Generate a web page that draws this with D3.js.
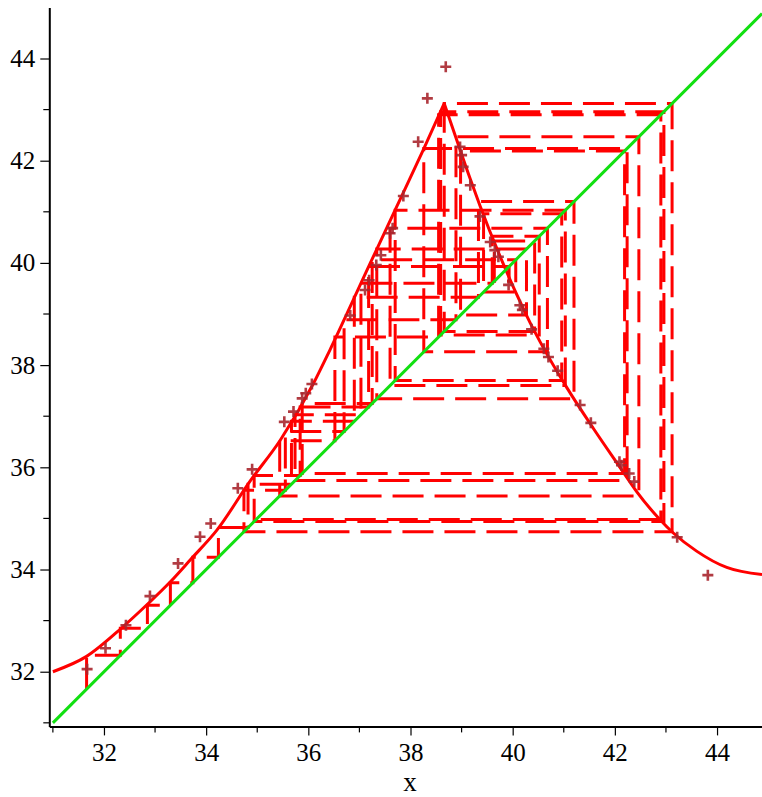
<!DOCTYPE html>
<html>
<head>
<meta charset="utf-8">
<script src="https://cdn.jsdelivr.net/npm/d3@7"></script>
<style>
  html, body { margin: 0; padding: 0; background: #fff; }
  svg { display: block; }
</style>
</head>
<body>
<svg id="chart" width="762" height="797"></svg>
<script>
// Map curve x_{n+1} = f(x_n): rising branch up to the peak, then falling branch
const riseX = [31.00, 31.66, 32.35, 32.84, 33.29, 33.70, 34.21, 34.86, 35.45, 36.10, 36.42, 37.21, 37.73, 38.25, 38.66];
const riseY = [32.00, 32.30, 32.86, 33.31, 33.75, 34.20, 34.77, 35.73, 36.53, 37.64, 38.29, 39.99, 41.10, 42.21, 43.12];
const fallX = [38.66, 38.90, 39.17, 39.36, 39.82, 40.14, 40.34, 40.54, 41.06, 41.58, 42.10, 42.43, 42.88, 43.15, 43.60, 44.19, 44.88];
const fallY = [43.12, 42.42, 41.64, 41.12, 39.97, 39.25, 38.83, 38.45, 37.56, 36.76, 36.00, 35.52, 34.98, 34.71, 34.36, 34.04, 33.90];

// Successive iterates x_0, x_1, ... of the map (cobweb)
const orbit = [31.66, 32.32, 32.85, 33.30, 33.74, 34.24, 34.82, 35.67, 36.90, 39.33,
               41.20, 37.34, 40.27, 38.98, 42.19, 35.88, 37.25, 40.06, 39.43, 40.96,
               37.70, 41.03, 37.60, 40.68, 38.26, 42.24, 35.74, 37.03, 39.60, 40.52,
               38.59, 42.96, 34.94, 35.84, 37.18, 39.93, 39.64, 40.43, 38.66, 43.12,
               34.74, 35.55, 36.70, 38.89, 42.47, 35.44, 36.52, 38.55, 42.90, 34.98];

// Observed pairs (x_n, x_{n+1})
const obsX = [31.67, 32.03, 32.43, 32.90, 33.45, 33.88, 34.09, 34.62, 34.90, 35.53,
              35.71, 35.88, 35.95, 36.07, 36.82, 37.11, 37.19, 37.33, 37.42, 37.60,
              37.65, 37.86, 38.15, 38.33, 38.69, 38.97, 39.00, 39.03, 39.17, 39.36,
              39.56, 39.65, 39.72, 39.92, 40.14, 40.19, 40.37, 40.61, 40.70, 40.88,
              41.32, 41.53, 42.09, 42.13, 42.28, 42.38, 43.22, 43.82];
const obsY = [32.05, 32.46, 32.91, 33.48, 34.12, 34.64, 34.90, 35.59, 35.96, 36.89,
              37.09, 37.35, 37.45, 37.63, 38.97, 39.47, 39.66, 39.96, 40.15, 40.58,
              40.68, 41.31, 42.37, 43.22, 43.84, 42.27, 42.11, 41.88, 41.52, 40.91,
              40.41, 40.25, 40.12, 39.57, 39.17, 39.08, 38.70, 38.32, 38.16, 37.89,
              37.22, 36.87, 36.11, 36.04, 35.88, 35.72, 34.63, 33.89];

const xTicks = [32, 34, 36, 38, 40, 42, 44];
const yTicks = [32, 34, 36, 38, 40, 42, 44];
const xMinor = [31, 33, 35, 37, 39, 41, 43];
const yMinor = [31, 33, 35, 37, 39, 41, 43];
const xDomain = [30.93, 44.88];
const yDomain = [30.93, 45.0];

const svg = d3.select("#chart");
const x = d3.scaleLinear().domain(xDomain).range([49.3, 762]);
const y = d3.scaleLinear().domain(yDomain).range([726.4, 7.4]);

// Cobweb: vertical to the curve, horizontal to the diagonal, repeated
const web = [[orbit[0], orbit[0]]];
for (let i = 0; i < orbit.length - 1; i++) {
  web.push([orbit[i], orbit[i + 1]]);
  web.push([orbit[i + 1], orbit[i + 1]]);
}
const lineXY = d3.line().x(d => x(d[0])).y(d => y(d[1]));
svg.append("path")
  .attr("d", lineXY(web))
  .attr("fill", "none")
  .attr("stroke", "#ff0000")
  .attr("stroke-width", 3)
  .attr("stroke-dasharray", "31,11");

// Map curve
const smooth = d3.line().x(d => x(d[0])).y(d => y(d[1])).curve(d3.curveMonotoneX);
[[riseX, riseY], [fallX, fallY]].forEach(([xs, ys]) => {
  svg.append("path")
    .attr("d", smooth(xs.map((v, i) => [v, ys[i]])))
    .attr("fill", "none")
    .attr("stroke", "#ff0000")
    .attr("stroke-width", 3);
});

// Diagonal y = x
const diag = [xDomain[0] + 0.07, xDomain[1]];
svg.append("path")
  .attr("d", lineXY(diag.map(v => [v, v])))
  .attr("fill", "none")
  .attr("stroke", "#11e011")
  .attr("stroke-width", 3);

// Observed points as crosses
svg.append("g").selectAll("path")
  .data(obsX.map((v, i) => [v, obsY[i]]))
  .join("path")
  .attr("d", d => `M${x(d[0]) - 5.5},${y(d[1])}H${x(d[0]) + 5.5}M${x(d[0])},${y(d[1]) - 5.5}V${y(d[1]) + 5.5}`)
  .attr("stroke", "#a8262e")
  .attr("stroke-width", 2.6)
  .attr("fill", "none")
  .attr("opacity", 0.9);

// Axes
const serif = "Liberation Serif";
const xAxis = svg.append("g").attr("transform", `translate(0,${y(yDomain[0])})`)
  .call(d3.axisBottom(x).tickValues(xTicks).tickSize(9).tickSizeOuter(0).tickPadding(8).tickFormat(d3.format("d")));
const yAxis = svg.append("g").attr("transform", `translate(${x(xDomain[0])},0)`)
  .call(d3.axisLeft(y).tickValues(yTicks).tickSize(9).tickSizeOuter(0).tickPadding(5).tickFormat(d3.format("d")));
[xAxis, yAxis].forEach(g => {
  g.attr("font-family", serif);
  g.select(".domain").attr("stroke", "#000").attr("stroke-width", 2);
  g.selectAll(".tick line").attr("stroke", "#000").attr("stroke-width", 1.2);
  g.selectAll(".tick text").style("font-family", serif).style("font-size", "25px").attr("fill", "#000");
});
xAxis.selectAll(".minor").data(xMinor).join("line")
  .attr("x1", d => x(d)).attr("x2", d => x(d)).attr("y1", 0).attr("y2", 6)
  .attr("stroke", "#000").attr("stroke-width", 1.2);
yAxis.selectAll(".minor").data(yMinor).join("line")
  .attr("y1", d => y(d)).attr("y2", d => y(d)).attr("x1", 0).attr("x2", -6)
  .attr("stroke", "#000").attr("stroke-width", 1.2);

svg.append("text")
  .attr("x", 410).attr("y", 791)
  .attr("text-anchor", "middle")
  .style("font-family", serif)
  .style("font-size", "27px")
  .text("x");
</script>
</body>
</html>
